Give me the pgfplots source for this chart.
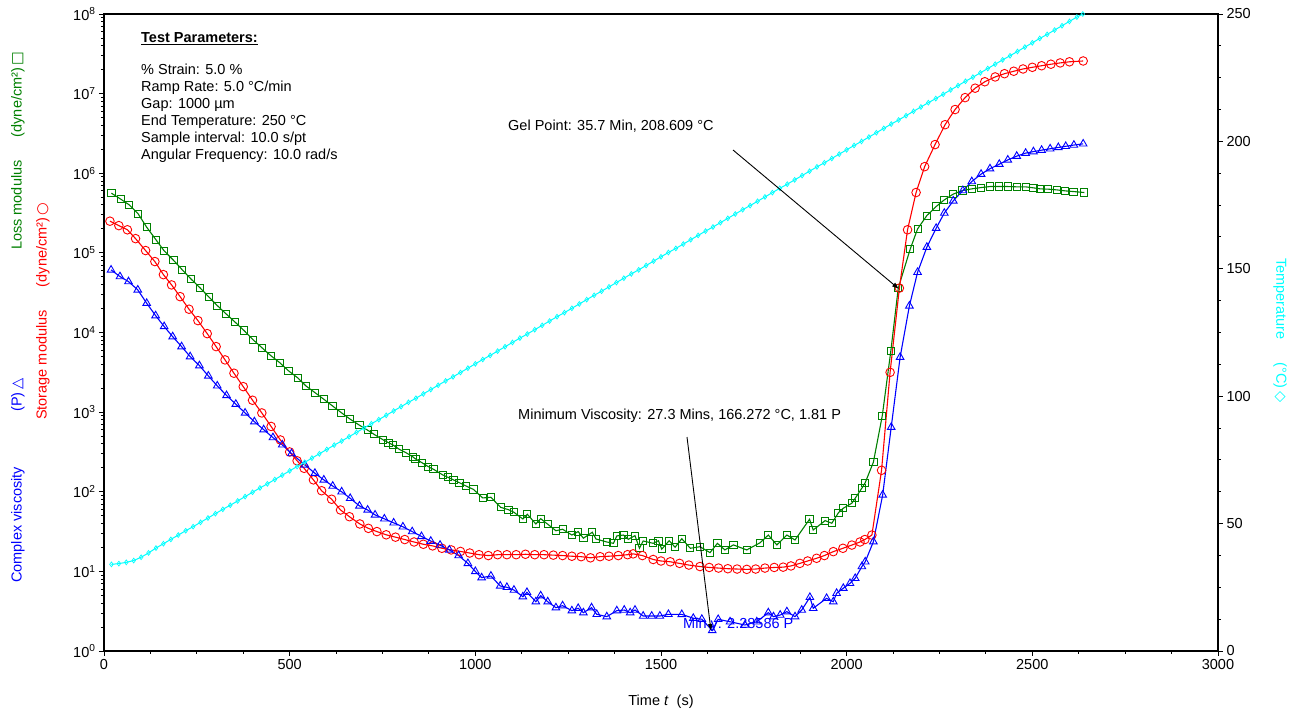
\documentclass[border=0pt]{standalone}
\usepackage{pgfplots}
\pgfplotsset{compat=1.18}
\usepackage{fontspec}
\setmainfont{Liberation Sans}
\newfontfamily\symfont{DejaVu Sans}
\usetikzlibrary{arrows.meta}
\newcommand\f{\fontsize{14.5}{17}\selectfont}
\definecolor{gg}{RGB}{0,128,0}
\definecolor{cy}{RGB}{0,255,255}
\definecolor{rr}{RGB}{255,0,0}
\definecolor{bb}{RGB}{0,0,255}

\begin{document}
\begin{tikzpicture}
\begin{axis}[
    scale only axis, width=1114pt, height=637pt,
    xmin=0, xmax=3000, ymode=log, log basis y=10, ymin=1, ymax=1e8,
    xtick={0,500,...,3000}, minor x tick num=3,
    ytick={1,10,100,1000,10000,1e5,1e6,1e7,1e8},
    yticklabels={10\textsuperscript{0},10\textsuperscript{1},10\textsuperscript{2},10\textsuperscript{3},10\textsuperscript{4},10\textsuperscript{5},10\textsuperscript{6},10\textsuperscript{7},10\textsuperscript{8}},
    minor ytick={2,3,4,5,6,7,8,9,20,30,40,50,60,70,80,90,200,300,400,500,600,700,800,900,
      2000,3000,4000,5000,6000,7000,8000,9000,2e4,3e4,4e4,5e4,6e4,7e4,8e4,9e4,
      2e5,3e5,4e5,5e5,6e5,7e5,8e5,9e5,2e6,3e6,4e6,5e6,6e6,7e6,8e6,9e6,
      2e7,3e7,4e7,5e7,6e7,7e7,8e7,9e7},
    tick align=outside, xtick pos=bottom, ytick pos=left,
    major tick length=5pt, minor tick length=3pt,
    axis line style={line width=1.2pt},
    every tick/.style={black, line width=0.9pt},
    tick label style={font=\f},
    /pgf/number format/assume math mode=true,
    /pgf/number format/1000 sep={},
]
% Loss modulus G''
\addplot[gg, line width=1.1pt, mark=square, mark size=3.6pt, mark options={solid, fill=none, line width=0.9pt}]
coordinates {
(20,5.62e5)(45,4.73e5)(68,4.01e5)(92,3.09e5)(115,2.10e5)(140,1.46e5)(162,1.06e5)(187,8.09e4)
(211,6.11e4)(234,4.71e4)(259,3.63e4)(282,2.80e4)(305,2.18e4)(329,1.71e4)(353,1.35e4)(377,1.06e4)
(401,8150)(425,6460)(449,5130)(473,4190)(497,3300)(522,2690)(544,2130)(568,1760)(592,1450)
(615,1200)(639,986)(663,815)(688,685)(710,593)(727,527)(752,448)(766,414)(778,387)(795,342)
(813,310)(831,276)(839,258)(856,232)(873,207)(887,192)(912,163)(926,152)(941,141)(957,130)
(975,118)(995,107)(1020,83.6)(1042,85.3)(1068,63.8)(1089,59.6)(1104,55.2)(1128,45.5)(1140,52.1)
(1163,39.4)(1176,45.9)(1195,39.1)(1217,32.4)(1235,33.8)(1260,28.6)(1277,31.6)(1291,26.1)
(1315,31.0)(1325,25.5)(1354,23.4)(1372,22.5)(1381,27.9)(1399,28.6)(1412,25.3)(1430,28.1)
(1442,19.5)(1452,24.1)(1479,22.5)(1493,24.3)(1502,19.0)(1522,24.3)(1538,20.1)(1556,25.7)
(1579,19.5)(1605,20.4)(1632,17.2)(1652,22.5)(1672,18.6)(1695,21.5)(1731,18.6)(1767,22.9)
(1789,28.6)(1812,21.5)(1839,28.6)(1861,24.8)(1900,45.1)(1910,33.1)(1942,43.4)(1960,40.2)
(1978,54.6)(1991,62.1)(2014,71.8)(2023,82.8)(2041,111)(2050,130)(2072,235)(2096,904)
(2119,5870)(2139,3.61e4)(2171,1.11e5)(2191,2.00e5)(2216,2.94e5)(2241,3.82e5)(2263,4.63e5)
(2287,5.47e5)(2312,6.07e5)(2337,6.37e5)(2362,6.61e5)(2386,6.81e5)(2410,6.81e5)(2434,6.81e5)
(2458,6.75e5)(2482,6.75e5)(2503,6.56e5)(2521,6.37e5)(2543,6.31e5)(2566,6.18e5)(2588,6.01e5)
(2611,5.89e5)(2640,5.73e5)
};
% Storage modulus G'
\addplot[rr, line width=1.1pt, mark=o, mark size=4.3pt, mark options={solid, line width=0.9pt}]
coordinates {
(16,2.50e5)(40,2.20e5)(63,1.95e5)(85,1.51e5)(112,1.07e5)(137,7.78e4)(160,5.33e4)(182,3.96e4)
(205,2.82e4)(229,1.96e4)(253,1.41e4)(278,9680)(302,6650)(326,4530)(350,3080)(375,2090)
(400,1410)(425,977)(450,661)(475,447)(500,316)(520,245)(539,197)(564,141)(586,103)(613,80.5)
(637,59.0)(661,48.6)(689,39.4)(712,34.7)(735,31.6)(760,28.8)(785,26.9)(810,25.1)(835,23.4)
(860,21.9)(885,20.9)(910,19.5)(935,18.6)(960,17.8)(985,17.0)(1010,16.2)(1035,15.8)(1060,16.2)
(1085,16.2)(1110,16.2)(1135,16.4)(1160,16.2)(1185,16.2)(1210,16.0)(1235,15.8)(1260,15.5)
(1285,15.3)(1310,14.8)(1336,15.3)(1360,15.5)(1385,15.8)(1410,16.2)(1425,16.6)(1450,15.8)
(1479,14.1)(1500,13.5)(1525,13.2)(1550,12.6)(1575,12.0)(1605,11.5)(1630,11.2)(1655,11.0)
(1680,10.8)(1705,10.7)(1731,10.6)(1755,10.7)(1780,11.0)(1805,11.2)(1829,11.3)(1850,11.7)
(1874,12.6)(1895,13.5)(1919,14.6)(1940,15.8)(1964,17.7)(1990,19.5)(2014,21.4)(2036,23.4)
(2049,25.1)(2068,28.6)(2094,186)(2117,3160)(2142,3.61e4)(2164,1.95e5)(2187,5.73e5)
(2210,1.21e6)(2238,2.29e6)(2265,4.07e6)(2292,6.31e6)(2319,8.91e6)(2346,1.17e7)(2372,1.41e7)
(2400,1.62e7)(2425,1.78e7)(2450,1.91e7)(2475,2.04e7)(2500,2.14e7)(2525,2.24e7)(2550,2.34e7)
(2575,2.43e7)(2600,2.51e7)(2637,2.57e7)
};
% Complex viscosity
\addplot[bb, line width=1.1pt, mark=triangle, mark size=4.4pt, mark options={solid, line width=0.9pt}]
coordinates {
(19,6.11e4)(43,5.04e4)(66,4.36e4)(91,3.43e4)(115,2.33e4)(139,1.63e4)(162,1.19e4)(185,8870)
(209,6650)(232,4980)(257,3840)(281,2850)(305,2140)(330,1620)(355,1260)(380,977)(405,759)
(430,603)(455,479)(480,389)(505,302)(541,217)(568,171)(592,141)(616,118)(640,100)(663,82.8)
(688,66.4)(710,59.0)(730,51.2)(755,45.7)(780,40.7)(805,36.3)(830,31.6)(855,27.5)(880,24.0)
(905,21.4)(930,18.6)(955,15.8)(980,12.6)(1000,10.0)(1017,8.34)(1042,8.75)(1067,6.56)
(1085,6.31)(1104,5.83)(1128,4.81)(1139,5.46)(1163,4.16)(1176,4.95)(1195,4.16)(1217,3.50)
(1235,3.71)(1260,3.21)(1277,3.44)(1291,3.03)(1313,3.50)(1327,2.89)(1354,2.70)(1381,3.21)
(1401,3.27)(1417,3.03)(1430,3.27)(1452,2.75)(1475,2.75)(1497,2.75)(1520,2.89)(1556,2.88)
(1587,2.58)(1610,2.51)(1638,1.81)(1654,2.50)(1686,2.33)(1726,2.12)(1758,2.33)(1789,3.03)
(1803,2.70)(1821,2.83)(1839,3.12)(1861,2.70)(1879,3.27)(1901,4.73)(1910,3.44)(1946,4.59)
(1964,4.16)(1973,5.31)(1991,6.14)(2009,7.08)(2023,8.18)(2041,11.5)(2050,13.2)(2072,23.6)
(2097,91.2)(2120,646)(2144,4900)(2169,2.16e4)(2191,5.71e4)(2216,1.18e5)(2241,2.04e5)
(2263,3.16e5)(2287,4.50e5)(2313,6.07e5)(2337,7.87e5)(2362,9.75e5)(2386,1.14e6)(2411,1.30e6)
(2434,1.47e6)(2458,1.64e6)(2482,1.79e6)(2503,1.87e6)(2525,1.95e6)(2548,2.03e6)(2570,2.11e6)
(2590,2.18e6)(2612,2.26e6)(2637,2.34e6)
};
\end{axis}

\begin{axis}[
    scale only axis, width=1114pt, height=637pt,
    xmin=0, xmax=3000, ymin=0, ymax=250,
    axis x line=none, axis y line*=right,
    ytick={0,50,...,250}, minor y tick num=3,
    tick align=outside,
    major tick length=5pt, minor tick length=3pt,
    axis line style={line width=1.2pt},
    every tick/.style={black, line width=0.9pt},
    tick label style={font=\f},
    /pgf/number format/assume math mode=true,
]
\addplot[cy, line width=1pt, mark=diamond, mark size=2.4pt, mark options={solid, line width=0.7pt}]
coordinates {
(20,34.0)(40,34.3)(60,34.8)(80,35.5)(100,36.8)(120,38.5)(140,40.4)(160,42.1)(180,43.8)
(200,45.5)(220,47.2)(240,48.8)(260,50.5)(280,52.2)(300,53.9)(320,55.6)(340,57.2)(360,58.9)
(380,60.6)(400,62.3)(420,64.0)(440,65.6)(460,67.3)(480,69.0)(500,70.7)(520,72.4)(540,74.0)
(560,75.7)(580,77.4)(600,79.1)(620,80.8)(640,82.4)(660,84.1)(680,85.8)(700,87.5)(720,89.2)
(740,90.8)(760,92.5)(780,94.2)(800,95.9)(820,97.6)(840,99.2)(860,100.9)(880,102.6)(900,104.3)
(920,106.0)(940,107.6)(960,109.3)(980,111.0)(1000,112.7)(1020,114.4)(1040,116.0)(1060,117.7)
(1080,119.4)(1100,121.1)(1120,122.8)(1140,124.4)(1160,126.1)(1180,127.8)(1200,129.5)
(1220,131.2)(1240,132.8)(1260,134.5)(1280,136.2)(1300,137.9)(1320,139.6)(1340,141.2)
(1360,142.9)(1380,144.6)(1400,146.3)(1420,148.0)(1440,149.6)(1460,151.3)(1480,153.0)
(1500,154.7)(1520,156.4)(1540,158.0)(1560,159.7)(1580,161.4)(1600,163.1)(1620,164.8)
(1640,166.4)(1660,168.1)(1680,169.8)(1700,171.5)(1720,173.2)(1740,174.8)(1760,176.5)
(1780,178.2)(1800,179.9)(1820,181.6)(1840,183.2)(1860,184.9)(1880,186.6)(1900,188.3)
(1920,190.0)(1940,191.6)(1960,193.3)(1980,195.0)(2000,196.7)(2020,198.4)(2040,200.0)
(2060,201.7)(2080,203.4)(2100,205.1)(2120,206.8)(2140,208.4)(2160,210.1)(2180,211.8)
(2200,213.5)(2220,215.2)(2240,216.8)(2260,218.5)(2280,220.2)(2300,221.9)(2320,223.6)
(2340,225.2)(2360,226.9)(2380,228.6)(2400,230.3)(2420,232.0)(2440,233.6)(2460,235.3)
(2480,237.0)(2500,238.7)(2520,240.4)(2540,242.0)(2560,243.7)(2580,245.4)(2600,247.1)
(2620,248.8)(2636,250.0)
};
\end{axis}

% axis titles
\node[font=\f, text=bb, rotate=90, anchor=west, inner sep=0] at (-86pt,68pt)
  {Complex viscosity\hspace{3.8em}(P)\,{\symfont △}};
\node[font=\f, text=gg, rotate=90, anchor=west, inner sep=0] at (-86pt,401pt)
  {Loss modulus\hspace{1.6em}(dyne/cm²)\,{\symfont □}};
\node[font=\f, text=rr, rotate=90, anchor=west, inner sep=0] at (-61pt,231pt)
  {Storage modulus\hspace{1.6em}(dyne/cm²)\,{\symfont ○}};
\node[font=\f, text=cy, rotate=-90, anchor=west, inner sep=0] at (1176pt,393pt)
  {Temperature\hspace{1.6em}(°C)\,{\symfont ◇}};
\node[font=\f, anchor=base, inner sep=0] at (557pt,-54pt) {Time \textit{t} \ (s)};

% test parameters
\node[font=\f, anchor=base west, inner sep=0] at (37pt,608pt) {\underline{\textbf{Test Parameters:}}};
\node[font=\f, anchor=base west, inner sep=0] at (37pt,576pt) {\% Strain: 5.0 \%};
\node[font=\f, anchor=base west, inner sep=0] at (37pt,559pt) {Ramp Rate: 5.0 °C/min};
\node[font=\f, anchor=base west, inner sep=0] at (37pt,542pt) {Gap: 1000 µm};
\node[font=\f, anchor=base west, inner sep=0] at (37pt,525pt) {End Temperature: 250 °C};
\node[font=\f, anchor=base west, inner sep=0] at (37pt,508pt) {Sample interval: 10.0 s/pt};
\node[font=\f, anchor=base west, inner sep=0] at (37pt,491pt) {Angular Frequency: 10.0 rad/s};

% annotations
\node[font=\f, anchor=base west, inner sep=0] at (404pt,520pt) {Gel Point: 35.7 Min, 208.609 °C};
\draw[line width=0.9pt, -{Latex[length=7pt,width=5pt]}] (629pt,501pt) -- (795pt,362pt);
\node[font=\f, anchor=base west, inner sep=0] at (414pt,232pt) {Minimum Viscosity: 27.3 Mins, 166.272 °C, 1.81 P};
\draw[line width=0.9pt, -{Latex[length=7pt,width=5pt]}] (583pt,214pt) -- (607pt,20pt);
\node[font=\f, text=bb, anchor=base west, inner sep=0] at (579pt,23pt) {Min y: 2.28586 P};

\pgfresetboundingbox
\path[use as bounding box] (-104pt,-62pt) rectangle (1192pt,651pt);
\end{tikzpicture}
\end{document}
